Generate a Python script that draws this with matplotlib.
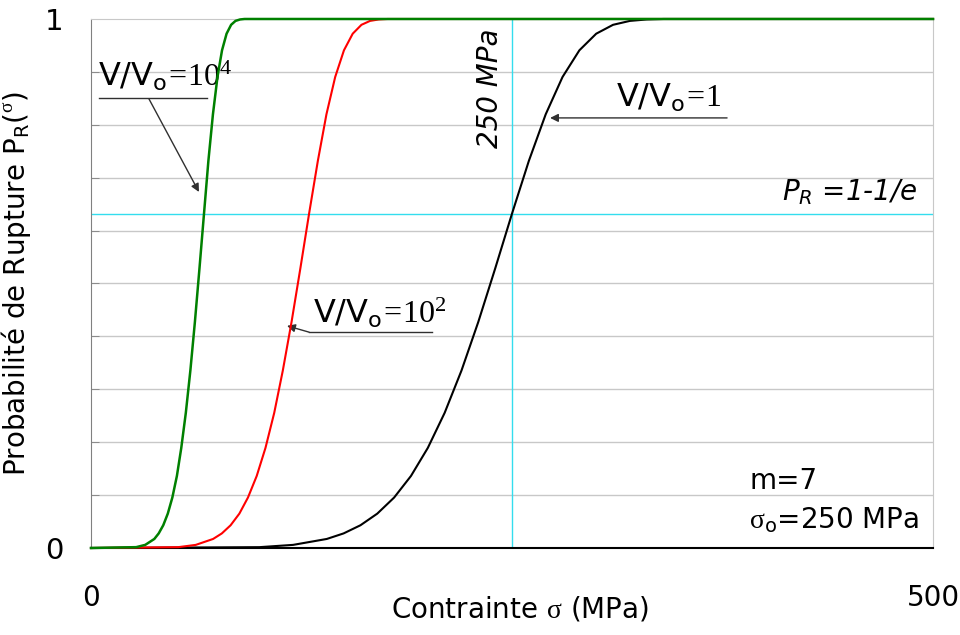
import matplotlib
matplotlib.use("Agg")
import matplotlib.pyplot as plt

# values (probability vs stress, MPa)
p_levels = [0.0, 0.0016, 0.0059, 0.0171, 0.0276, 0.0430, 0.0650, 0.0954, 0.1362,
            0.1892, 0.2555, 0.3355, 0.4276, 0.5283, 0.6321, 0.7318, 0.8198, 0.8904,
            0.9408, 0.9722, 0.9890, 0.9964, 0.9991, 1.0, 1.0]
stress_v1 = [0, 100, 120, 140, 150, 160, 170, 180, 190, 200, 210, 220, 230, 240,
             250, 260, 270, 280, 290, 300, 310, 320, 330, 340, 500]
stress_v1e2 = [0, 51.8, 62.2, 72.5, 77.7, 82.9, 88.1, 93.2, 98.4, 103.6, 108.8, 113.9,
               119.1, 124.3, 129.5, 134.7, 139.8, 145.0, 150.2, 155.4, 160.6, 165.7,
               170.9, 176.1, 500]
stress_v1e4 = [0, 26.8, 32.2, 37.6, 40.2, 42.9, 45.6, 48.3, 51.0, 53.6, 56.3, 59.0,
               61.7, 64.4, 67.1, 69.7, 72.4, 75.1, 77.8, 80.5, 83.2, 85.8, 88.5, 91.2, 500]

sigma_0 = 250
p_char = 0.632
grid_levels = [0.1, 0.2, 0.3, 0.4, 0.5, 0.6, 0.7, 0.8, 0.9]

plt.rcParams['font.family'] = ['DejaVu Sans']
plt.rcParams['mathtext.fontset'] = 'custom'
plt.rcParams['mathtext.rm'] = 'Liberation Serif'
plt.rcParams['mathtext.sf'] = 'DejaVu Sans'
plt.rcParams['mathtext.it'] = 'DejaVu Sans:italic'
plt.rcParams['mathtext.bf'] = 'DejaVu Sans:bold'

fig = plt.figure(figsize=(9.6, 6.35), dpi=100)
ax = fig.add_axes([0.0948, 0.137, 0.8771, 0.8331])

ax.set_xlim(0, 500)
ax.set_ylim(0, 1)

for g in grid_levels:
    ax.axhline(g, color='#c8c8c8', lw=1, zorder=1)

ax.axvline(sigma_0, color='#33ddee', lw=1, zorder=2)
ax.axhline(p_char, color='#33ddee', lw=1, zorder=2)

ax.plot(stress_v1, p_levels, color='black', lw=1.5, zorder=3, clip_on=False)
ax.plot(stress_v1e2, p_levels, color='#ff0000', lw=1.5, zorder=4, clip_on=False)
ax.plot(stress_v1e4, p_levels, color='#008000', lw=1.8, zorder=5, clip_on=False)

# spines / ticks
ax.spines['left'].set_color('#808080')
ax.spines['bottom'].set_color('black')
ax.spines['bottom'].set_linewidth(1.5)
ax.spines['top'].set_color('#c8c8c8')
ax.spines['right'].set_color('#c8c8c8')

ax.set_xticks([0, 500])
ax.set_xticklabels(['0', '500'])
ax.set_yticks([0, 1])
ax.set_yticklabels(['0', '1'])
ax.set_yticks(grid_levels, minor=True)
ax.tick_params(axis='x', length=0, pad=26, labelsize=20)
ax.tick_params(axis='y', which='major', length=0, pad=20, labelsize=21)
ax.tick_params(axis='y', which='minor', direction='in', length=6, color='#808080')

ax.set_xlabel(r'Contrainte $\mathrm{\sigma}$ (MPa)', fontsize=20)
ax.xaxis.set_label_coords(0.51, -0.088)
ax.set_ylabel(r'Probabilité de Rupture P$_\mathsf{R}$($^\mathrm{\sigma}$)', fontsize=20,
              labelpad=8)

arrow = dict(arrowstyle='-|>', color='#303030', lw=1, mutation_scale=12,
             shrinkA=0, shrinkB=0)

# V/Vo = 10^4
ax.text(4, 0.86, r'$\mathsf{V/V_o}\!=\!\mathrm{10^4}$', fontsize=23, va='bottom')
ax.plot([4.8, 69], [0.851, 0.851], color='#303030', lw=1, clip_on=False)
ax.annotate('', xy=(64.1, 0.673), xytext=(34.4, 0.849), arrowprops=arrow)

# V/Vo = 10^2
ax.text(132, 0.412, r'$\mathsf{V/V_o}\!=\!\mathrm{10^2}$', fontsize=23, va='bottom')
ax.plot([129.5, 202.5], [0.408, 0.408], color='#303030', lw=1)
ax.annotate('', xy=(116.4, 0.420), xytext=(129.5, 0.408), arrowprops=arrow)

# V/Vo = 1
ax.text(312, 0.82, r'$\mathsf{V/V_o}\!=\!\mathrm{1}$', fontsize=23, va='bottom')
ax.annotate('', xy=(272.6, 0.813), xytext=(377.7, 0.813), arrowprops=arrow)

ax.text(245, 0.87, '250 MPa', rotation=90, style='italic', fontsize=20,
        ha='right', va='center')
ax.text(491, 0.645, r'$P_R$ =1-1/e', style='italic', fontsize=20, ha='right', va='bottom')

ax.text(391, 0.1, 'm=7', fontsize=20, va='bottom')
ax.text(391, 0.025, r'$\mathrm{\sigma}_\mathsf{o}$=250 MPa', fontsize=20, va='bottom')

fig.savefig('out.png', dpi=100)
